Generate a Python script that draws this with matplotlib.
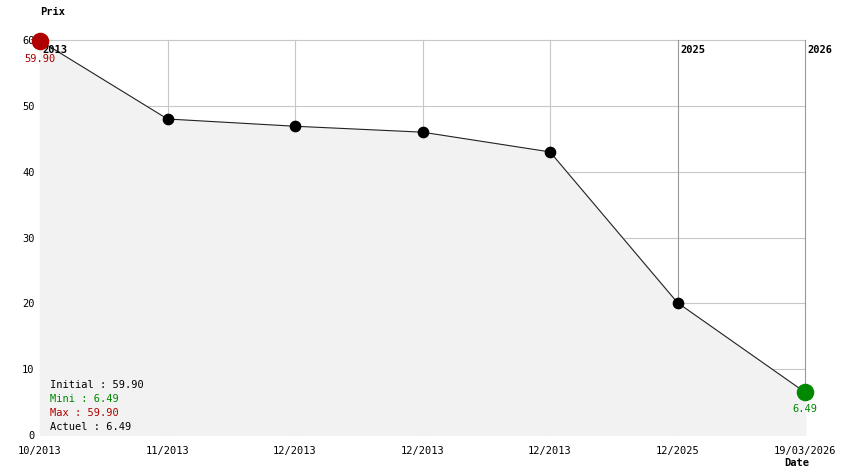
import matplotlib
matplotlib.use("Agg")
import matplotlib.pyplot as plt
import numpy as np

dates = ["10/2013", "11/2013", "12/2013", "12/2013", "12/2013", "12/2025", "19/03/2026"]
prices = [59.90, 48.0, 46.9, 46.0, 43.0, 20.1, 6.49]
year_marks = {0: "2013", 5: "2025", 6: "2026"}
yticks = [0, 10, 20, 30, 40, 50, 60]

plt.rcParams["font.family"] = ["DejaVu Sans Mono"]

W, H = 844, 474
fig = plt.figure(figsize=(W / 100, H / 100), dpi=100)
x0, x1, y0, y1 = 40, 805, 40, 435
ax = fig.add_axes([x0 / W, 1 - y1 / H, (x1 - x0) / W, (y1 - y0) / H])

x = np.arange(len(prices))
ax.set_xlim(0, len(prices) - 1)
ax.set_ylim(0, 60)
for s in ax.spines.values():
    s.set_visible(False)

for yv in yticks[1:]:
    ax.axhline(yv, color="#c8c8c8", lw=0.8, zorder=0, clip_on=False)
for i in x:
    col = "#999999" if i in (5, 6) else "#c8c8c8"
    ax.axvline(i, color=col, lw=0.8, zorder=0, clip_on=False)

ax.fill_between(x, prices, 0, color="#f2f2f2", zorder=1)
ax.plot(x, prices, color="#222222", lw=0.8, zorder=2)
ax.scatter(x[1:-1], prices[1:-1], s=55, color="black", zorder=3, clip_on=False)
ax.scatter([0], [prices[0]], s=135, color="#b00000", zorder=4, clip_on=False)
ax.scatter([x[-1]], [prices[-1]], s=135, color="#008800", zorder=4, clip_on=False)

for i, lab in year_marks.items():
    ax.text(i + 0.02, 59.2, lab, fontsize=7.5, fontweight="bold", va="top", ha="left", zorder=2)

ax.text(0, 57.8, f"{prices[0]:.2f}", color="#b00000", fontsize=7.5, ha="center", va="top", zorder=5)
ax.text(x[-1], prices[-1] - 1.8, f"{prices[-1]:.2f}", color="#008800", fontsize=7.5,
        ha="center", va="top", zorder=5)

ax.set_yticks(yticks)
ax.set_yticklabels([str(v) for v in yticks], fontsize=7.5)
ax.set_xticks(x)
ax.set_xticklabels(dates, fontsize=7.5)
ax.tick_params(length=0, pad=8)
ax.tick_params(axis="y", pad=4)

legend = [(f"Initial : {prices[0]:.2f}", "black"),
          (f"Mini : {min(prices):.2f}", "#008800"),
          (f"Max : {max(prices):.2f}", "#b00000"),
          (f"Actuel : {prices[-1]:.2f}", "black")]
for k, (txt, c) in enumerate(legend):
    fig.text(50 / W, 1 - (385 + 14 * k) / H, txt, color=c, fontsize=7.5, va="center")

fig.text(40 / W, 1 - 12 / H, "Prix", fontsize=7.5, fontweight="bold", va="center")
fig.text(797 / W, 1 - 463 / H, "Date", fontsize=7.5, fontweight="bold", va="center", ha="center")

fig.savefig("out.png", dpi=100, facecolor="white")
